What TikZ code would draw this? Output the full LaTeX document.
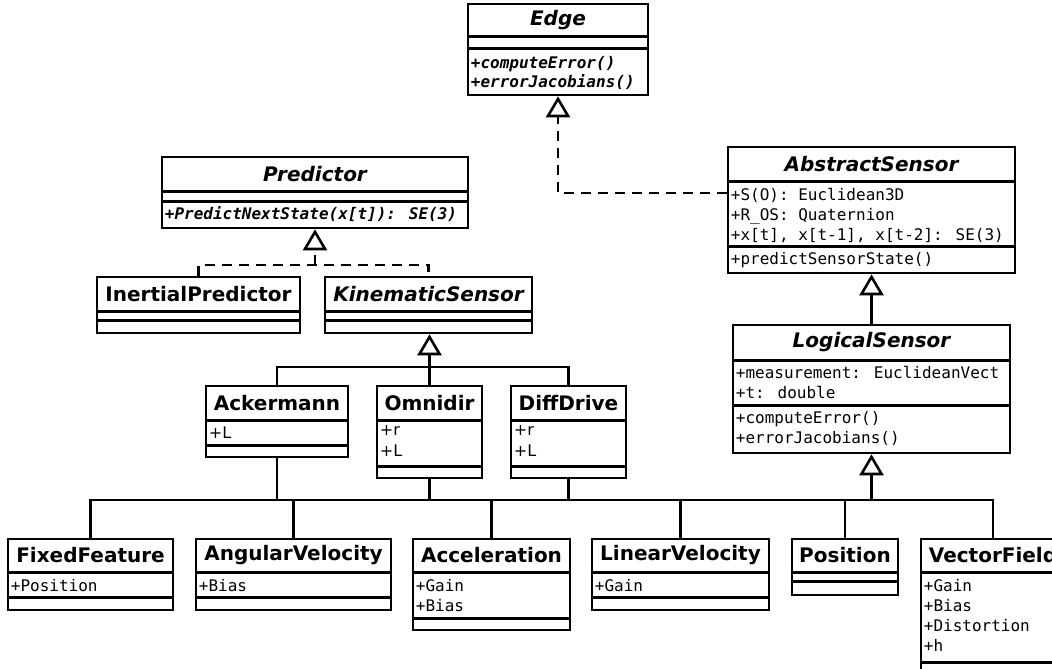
\documentclass[tikz,border=0pt]{standalone}
\usepackage{fontspec}
\setmainfont{DejaVu Sans}[BoldFont={DejaVu Sans Bold}, BoldItalicFont={DejaVu Sans Bold Oblique}]
\newfontfamily\codefont{DejaVu Sans Mono}[BoldFont={DejaVu Sans Mono Bold}, BoldItalicFont={DejaVu Sans Mono Bold Oblique}]
\usetikzlibrary{arrows.meta, calc}
\tikzset{
    % Class Styles
    classbox/.style={rectangle, draw, line width=2.6pt, fill=white, inner sep=0pt},
    classname/.style={inner sep=0pt, font=\fontsize{20}{24}\selectfont\bfseries},
    abstractname/.style={classname, font=\fontsize{20}{24}\selectfont\bfseries\itshape},
    member/.style={anchor=north west, align=left, inner sep=0pt,
        font=\codefont\fontsize{16}{20}\selectfont,
        execute at begin node={\rule{0pt}{12.5pt}}},
    abstractmember/.style={member, font=\codefont\fontsize{16}{19.5}\selectfont\bfseries\itshape},
    plainmember/.style={member, font=\fontsize{16}{21}\selectfont},
    separator/.style={line width=2.6pt},
    % Connector Styles
    link/.style={line width=2.6pt},
    inherit/.style={link, -{Triangle[open, length=21pt, width=24pt]}},
    realize/.style={inherit, dash pattern=on 10pt off 7pt}
}

\begin{document}
\begin{tikzpicture}[x=1pt, y=-1pt]
    \useasboundingbox (0,0) rectangle (1052,669);
    \clip (0,0) rectangle (1052,669);

    % --- 1. Edge ---
    \node [classbox, minimum width=180pt, minimum height=91pt] (edge) at (558,49.5) {};
    \node [abstractname] (edgename) at ([yshift=-17pt]edge.north) {Edge};
    \draw [separator] ([yshift=-34pt]edge.north west) -- ([yshift=-34pt]edge.north east);
    \draw [separator] ([yshift=-46pt]edge.north west) -- ([yshift=-46pt]edge.north east);
    \node [abstractmember] (edgeops) at ([xshift=4pt, yshift=-53pt]edge.north west) {+computeError()\\+errorJacobians()};

    % --- 2. Predictor ---
    \node [classbox, minimum width=306pt, minimum height=71pt] (pred) at (315,192.5) {};
    \node [abstractname] (predname) at ([yshift=-18pt]pred.north) {Predictor};
    \draw [separator] ([yshift=-36pt]pred.north west) -- ([yshift=-36pt]pred.north east);
    \draw [separator] ([yshift=-46pt]pred.north west) -- ([yshift=-46pt]pred.north east);
    \node [abstractmember] (predops) at ([xshift=4pt, yshift=-51pt]pred.north west) {+PredictNextState(x[t]): SE(3)};

    % --- 3. InertialPredictor and KinematicSensor ---
    \node [classbox, minimum width=203pt, minimum height=56pt] (inertial) at (198.5,305) {};
    \node [classname] (inertialname) at ([yshift=-18pt]inertial.north) {InertialPredictor};
    \draw [separator] ([yshift=-36pt]inertial.north west) -- ([yshift=-36pt]inertial.north east);
    \draw [separator] ([yshift=-45pt]inertial.north west) -- ([yshift=-45pt]inertial.north east);

    \node [classbox, minimum width=207pt, minimum height=56pt] (kin) at (428.5,305) {};
    \node [abstractname] (kinname) at ([yshift=-18pt]kin.north) {KinematicSensor};
    \draw [separator] ([yshift=-36pt]kin.north west) -- ([yshift=-36pt]kin.north east);
    \draw [separator] ([yshift=-45pt]kin.north west) -- ([yshift=-45pt]kin.north east);

    % --- 4. AbstractSensor ---
    \node [classbox, minimum width=287pt, minimum height=126pt] (abstract) at (871.5,210) {};
    \node [abstractname] (abstractname) at ([yshift=-18pt]abstract.north) {AbstractSensor};
    \draw [separator] ([yshift=-36pt]abstract.north west) -- ([yshift=-36pt]abstract.north east);
    \draw [separator] ([yshift=-101pt]abstract.north west) -- ([yshift=-101pt]abstract.north east);
    \node [member] (abstractattr) at ([xshift=4pt, yshift=-42pt]abstract.north west) {+S(O): Euclidean3D\\+R\_OS: Quaternion\\+x[t], x[t-1], x[t-2]: SE(3)};
    \node [member] (abstractops) at ([xshift=4pt, yshift=-106pt]abstract.north west) {+predictSensorState()};

    % --- 5. LogicalSensor ---
    \node [classbox, minimum width=277pt, minimum height=128pt] (logical) at (871.5,389) {};
    \node [abstractname] (logicalname) at ([yshift=-18.5pt]logical.north) {LogicalSensor};
    \draw [separator] ([yshift=-37pt]logical.north west) -- ([yshift=-37pt]logical.north east);
    \draw [separator] ([yshift=-82pt]logical.north west) -- ([yshift=-82pt]logical.north east);
    \node [member] (logicalattr) at ([xshift=4pt, yshift=-42pt]logical.north west) {+measurement: EuclideanVect\\+t: double};
    \node [member] (logicalops) at ([xshift=4pt, yshift=-87pt]logical.north west) {+computeError()\\+errorJacobians()};

    % --- 6. Kinematic models ---
    \node [classbox, minimum width=142pt, minimum height=71pt] (ack) at (277,421.5) {};
    \node [classname] (ackname) at ([yshift=-18pt]ack.north) {Ackermann};
    \draw [separator] ([yshift=-36pt]ack.north west) -- ([yshift=-36pt]ack.north east);
    \draw [separator] ([yshift=-61pt]ack.north west) -- ([yshift=-61pt]ack.north east);
    \node [plainmember] (ackattr) at ([xshift=4pt, yshift=-41pt]ack.north west) {+L};

    \node [classbox, minimum width=105pt, minimum height=92pt] (omni) at (429.5,432) {};
    \node [classname] (omniname) at ([yshift=-18pt]omni.north) {Omnidir};
    \draw [separator] ([yshift=-36pt]omni.north west) -- ([yshift=-36pt]omni.north east);
    \draw [separator] ([yshift=-82pt]omni.north west) -- ([yshift=-82pt]omni.north east);
    \node [plainmember] (omniattr) at ([xshift=4pt, yshift=-41pt]omni.north west) {+r\\+L};

    \node [classbox, minimum width=115pt, minimum height=92pt] (diff) at (568.5,432) {};
    \node [classname] (diffname) at ([yshift=-18pt]diff.north) {DiffDrive};
    \draw [separator] ([yshift=-36pt]diff.north west) -- ([yshift=-36pt]diff.north east);
    \draw [separator] ([yshift=-82pt]diff.north west) -- ([yshift=-82pt]diff.north east);
    \node [plainmember] (diffattr) at ([xshift=4pt, yshift=-41pt]diff.north west) {+r\\+L};

    % --- 7. Concrete sensors ---
    \node [classbox, minimum width=165pt, minimum height=71pt] (ffeat) at (90.5,574.5) {};
    \node [classname] (ffeatname) at ([yshift=-17.5pt]ffeat.north) {FixedFeature};
    \draw [separator] ([yshift=-35pt]ffeat.north west) -- ([yshift=-35pt]ffeat.north east);
    \draw [separator] ([yshift=-60pt]ffeat.north west) -- ([yshift=-60pt]ffeat.north east);
    \node [member] (ffeatattr) at ([xshift=4pt, yshift=-41pt]ffeat.north west) {+Position};

    \node [classbox, minimum width=195pt, minimum height=71pt] (angvel) at (293.5,574.5) {};
    \node [classname] (angvelname) at ([yshift=-17.5pt]angvel.north) {AngularVelocity};
    \draw [separator] ([yshift=-35pt]angvel.north west) -- ([yshift=-35pt]angvel.north east);
    \draw [separator] ([yshift=-60pt]angvel.north west) -- ([yshift=-60pt]angvel.north east);
    \node [member] (angvelattr) at ([xshift=4pt, yshift=-41pt]angvel.north west) {+Bias};

    \node [classbox, minimum width=157pt, minimum height=91pt] (accel) at (491.5,584.5) {};
    \node [classname] (accelname) at ([yshift=-17.5pt]accel.north) {Acceleration};
    \draw [separator] ([yshift=-35pt]accel.north west) -- ([yshift=-35pt]accel.north east);
    \draw [separator] ([yshift=-81pt]accel.north west) -- ([yshift=-81pt]accel.north east);
    \node [member] (accelattr) at ([xshift=4pt, yshift=-41pt]accel.north west) {+Gain\\+Bias};

    \node [classbox, minimum width=177pt, minimum height=71pt] (linvel) at (680.5,574.5) {};
    \node [classname] (linvelname) at ([yshift=-17.5pt]linvel.north) {LinearVelocity};
    \draw [separator] ([yshift=-35pt]linvel.north west) -- ([yshift=-35pt]linvel.north east);
    \draw [separator] ([yshift=-60pt]linvel.north west) -- ([yshift=-60pt]linvel.north east);
    \node [member] (linvelattr) at ([xshift=4pt, yshift=-41pt]linvel.north west) {+Gain};

    \node [classbox, minimum width=106pt, minimum height=56pt] (position) at (845,567) {};
    \node [classname] (positionname) at ([yshift=-17.5pt]position.north) {Position};
    \draw [separator] ([yshift=-35pt]position.north west) -- ([yshift=-35pt]position.north east);
    \draw [separator] ([yshift=-44pt]position.north west) -- ([yshift=-44pt]position.north east);

    \node [classbox, minimum width=144pt, minimum height=151pt] (vfield) at (993,614.5) {};
    \node [classname] (vfieldname) at ([yshift=-17.5pt]vfield.north) {VectorField};
    \draw [separator] ([yshift=-35pt]vfield.north west) -- ([yshift=-35pt]vfield.north east);
    \draw [separator] ([yshift=-125pt]vfield.north west) -- ([yshift=-125pt]vfield.north east);
    \node [member] (vfieldattr) at ([xshift=4pt, yshift=-41pt]vfield.north west) {+Gain\\+Bias\\+Distortion\\+h};

    % --- 8. Connectors ---
    \coordinate (ebend) at (558,193);
    \coordinate (pjoin) at (315,265);
    \coordinate (kbus) at (429.5,367);
    \coordinate (bus) at (871.5,500);

    % realizations (dashed)
    \draw [realize] (abstract.west |- ebend) -- (ebend) -- (edge.south);
    \draw [realize, -] (inertial.north) |- (pjoin) -| (kin.north);
    \draw [realize] (pjoin) -- (pred.south);

    % kinematic models
    \draw [link] (ack.north) |- (kbus) -| (diff.north);
    \draw [inherit] (omni.north) -- (omni.north |- kin.south);

    % sensor bus
    \draw [link] (ffeat.north) |- (bus) -| (vfield.north);
    \draw [link] (angvel.north) -- (angvel.north |- bus);
    \draw [link] (accel.north) -- (accel.north |- bus);
    \draw [link] (linvel.north) -- (linvel.north |- bus);
    \draw [link] (position.north) -- (position.north |- bus);
    \draw [link] (ack.south) -- (ack.south |- bus);
    \draw [link] (omni.south) -- (omni.south |- bus);
    \draw [link] (diff.south) -- (diff.south |- bus);
    \draw [inherit] (bus) -- (logical.south);
    \draw [inherit] (logical.north) -- (abstract.south);

\end{tikzpicture}
\end{document}
